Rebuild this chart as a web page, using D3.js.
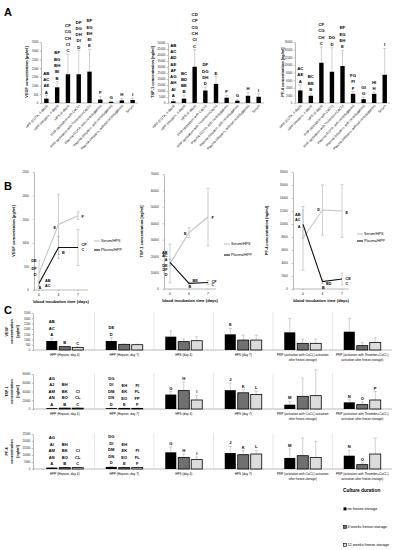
<!DOCTYPE html>
<html><head><meta charset="utf-8">
<script src="https://cdn.jsdelivr.net/npm/d3@7"></script>
<style>body{margin:0;background:#fff} svg{display:block}</style>
</head><body><svg id="c" width="395" height="550"></svg>
<script>
// ---------- Panel A data ----------
const aCategories = ["HPP (EDTA, 4 days)","HPP (Heparin, 4 days)","HPS (4 days)","PRP (activation with CaCl₂)","PRP (activation with Thrombin+CaCl₂)","Plasma (EDTA, with centrifugation)","Plasma (Heparin, with centrifugation)","Plasma (Heparin, without centrifugation)","Serum"];
const aVegf = [250, 900, 1650, 1650, 1800, 200, 70, 150, 170];
const aVegfSd = [180, 330, 1150, 1350, 1270, 180, 40, 110, 130];
const aVegfLetters = [["AB","AC","AE","A"],["BF","BG","BH","BI","B"],["CF","CG","CH","CI","C"],["DF","DG","DH","DI","D"],["EF","EG","EH","EI","E"],["F"],["G"],["H"],["I"]];
const aTsp = [1400, 3600, 30200, 10400, 15900, 4400, 1900, 6000, 5200];
const aTspSd = [1900, 2700, 14300, 2800, 6100, 1900, 1100, 2800, 2500];
const aTspLetters = [["AB","AC","AD","AE","AF","AG","AH","AI","A"],["BC","BD","BE","B"],["CD","CF","CG","CH","CI","C"],["DF","DG","DH","D"],["E"],["F"],["G"],["H"],["I"]];
const aPf4 = [3300, 1900, 10550, 8200, 9700, 2400, 1000, 2400, 7400];
const aPf4Sd = [1550, 700, 4150, 6300, 4100, 600, 500, 450, 6900];
const aPf4Letters = [["AC","AE","A"],["BC","BE","B"],["CF","CG","CH","C"],["DG","D"],["EF","EG","EH","E"],["FG","FI","F"],["GI","G"],["HI","H"],["I"]];
const aVegfTicks = [0,500,1000,1500,2000,2500,3000,3500];
const aTspTicks = [0,5000,10000,15000,20000,25000,30000,35000,40000,45000,50000];
const aPf4Ticks = [0,2000,4000,6000,8000,10000,12000,14000,16000];

// ---------- Panel B data ----------
const bDays = ["0","4","7"];
const bSeriesNames = ["Serum/HPS","Plasma/HPP"];
const bVegfSerum = [350, 1390, 1575], bVegfSerumSd = [280, 640, 80];
const bVegfPlasma = [140, 900, 900], bVegfPlasmaSd = [50, 230, 380];
const bVegfNotes = [["DE",0,615,"L"],["DF",0,445,"L"],["D",0,330,"L"],["AB",0,200,"R2"],["AC",0,85,"R2"],["A",0,40,"M"],["E",1,1310,"L"],["B",1,800,"R"],["F",2,1555,"R"],["CF",2,955,"R"],["C",2,850,"R"]];
const bTspSerum = [15500, 34300, 43800], bTspSerumSd = [11800, 3000, 17500];
const bTspPlasma = [16200, 3400, 4000], bTspPlasmaSd = [2000, 800, 1200];
const bTspNotes = [["AB",0,22200,"L"],["AC",0,20000,"L"],["A",0,17600,"L"],["DE",0,14500,"L"],["DF",0,11500,"L"],["D",0,8500,"L"],["E",1,33700,"L"],["BE",1,5250,"R"],["B",1,1200,"M"],["F",2,43400,"R"],["CF",2,4400,"R"],["C",2,2400,"R"]];
const bPf4Serum = [7800, 12150, 12000], bPf4SerumSd = [4900, 3850, 4050];
const bPf4Plasma = [9950, 1130, 1540], bPf4PlasmaSd = [2200, 300, 900];
const bPf4Notes = [["AB",0,11500,"L"],["AC",0,10700,"L"],["A",0,9600,"L"],["D",1,12150,"L"],["B",1,150,"M"],["BD",1,870,"R"],["E",2,11800,"R"],["CE",2,1640,"R"],["C",2,870,"R"]];
const bVegfTicks = [0,500,1000,1500,2000,2500];
const bTspTicks = [0,10000,20000,30000,40000,50000,60000,70000];
const bPf4Ticks = [0,2000,4000,6000,8000,10000,12000,14000,16000,18000];

// ---------- Panel C data ----------
const cGroups = ["HPP (Heparin, day 4)","HPP (Heparin, day 7)","HPS (day 4)","HPS (day 7)","PRP (activation with CaCl₂) activation|after freeze-storage)","PRP (activation with Thrombin+CaCl₂)|activation after freeze-storage)"];
const cStorage = ["no freeze-storage","4 weeks freeze-storage","12 weeks freeze-storage"];
const cVegfNone = [850, 850, 1260, 1480, 1670, 1730], cVegfNoneSd = [250, 310, 540, 560, 1330, 1270];
const cVegf4w = [315, 535, 790, 940, 630, 410], cVegf4wSd = [40, 40, 250, 460, 410, 280];
const cVegf12w = [250, 500, 880, 940, 630, 720], cVegf12wSd = [40, 40, 380, 460, 410, 440];
const cVegfLetters = [[["AB","AC","A"],["B"],["C"]],[["DE","D"],[],[]],[[],[],[]],[["E"],[],[]],[[],[],[]],[[],[],[]]];
const cTspNone = [2000, 2000, 33000, 43000, 9900, 15200], cTspNoneSd = [300, 300, 7000, 16400, 7600, 5800];
const cTsp4w = [2000, 1500, 42000, 37000, 29000, 10000], cTsp4wSd = [300, 300, 19700, 7000, 41800, 6000];
const cTsp12w = [2000, 1500, 20600, 33000, 30500, 20600], cTsp12wSd = [300, 300, 10400, 7800, 59000, 19400];
const cTspLetters = [[["AG","AJ","AM","AN","A"],["BH","BK","BO","B"],["CI","CL","C"]],[["DG","DI","DM","DN","D"],["EH","EK","EO","E"],["FI","FL","FP","F"]],[["G"],["H"],["I"]],[["J"],["K"],["L"]],[["M"],[],[]],[["N"],["O"],["P"]]];
const cPf4None = [1000, 1500, 11900, 11400, 7900, 9500], cPf4NoneSd = [200, 300, 3800, 4800, 6400, 3800];
const cPf44w = [1000, 1000, 8300, 10200, 9500, 3100], cPf44wSd = [200, 200, 2400, 2900, 12600, 1200];
const cPf412w = [1000, 1000, 6700, 10700, 8300, 10700], cPf412wSd = [200, 200, 1900, 2600, 11500, 11400];
const cPf4Letters = [[["AG","AI","AM","AN","A"],["BH","BK","BO","B"],["CI","CL","C"]],[["DG","DI","DM","DN","D"],["EH","EK","EO","E"],["FI","FL","F"]],[["G"],["H"],["I"]],[["J"],["K"],["L"]],[["M"],[],[]],[["N"],["O"],[]]];
const cVegfTicks = [0,500,1000,1500,2000,2500,3000,3500];
const cTspTicks = [0,20000,40000,60000,80000];
const cPf4Ticks = [0,5000,10000,15000,20000,25000];

// ---------- drawing ----------
const svg = d3.select("#c").attr("font-family","Arial, 'Liberation Sans', sans-serif");
const ERR = "#b0b0b0", AX = "#8a8a8a";

function panelLetter(t,x,y){ svg.append("text").attr("x",x).attr("y",y).attr("font-size",11).attr("font-weight","bold").text(t); }
panelLetter("A",4,16); panelLetter("B",4,190); panelLetter("C",4,314);

function yAxis(g, y, x0, ticks, fs, gap){
  const ax = g.append("g").attr("transform",`translate(${x0},0)`)
    .call(d3.axisLeft(y).tickValues(ticks).tickSize(1.2).tickSizeOuter(0).tickPadding(gap).tickFormat(d3.format("d")));
  ax.selectAll("text").attr("font-size",fs).attr("fill","#222").attr("font-family","Arial, 'Liberation Sans', sans-serif");
  ax.selectAll("line,path").attr("stroke",AX).attr("stroke-width",0.6);
  return ax;
}

function drawA(o){
  const g = svg.append("g");
  const x = d3.scaleBand().domain(aCategories).range([o.x0,o.x1]);
  const y = d3.scaleLinear().domain([0,o.max]).range([103,o.yTop]);
  yAxis(g,y,o.x0,o.ticks,2.8,1.5);
  g.append("line").attr("x1",o.x0).attr("x2",o.x1).attr("y1",103).attr("y2",103).attr("stroke",AX).attr("stroke-width",0.6);
  const cx = c => x(c)+x.bandwidth()/2;
  aCategories.forEach((c,i)=>{
    const v=o.vals[i], s=o.sd[i];
    g.append("line").attr("x1",cx(c)).attr("x2",cx(c)).attr("y1",y(v)).attr("y2",y(v+s)).attr("stroke",ERR).attr("stroke-width",0.6);
    g.append("line").attr("x1",cx(c)-1.5).attr("x2",cx(c)+1.5).attr("y1",y(v+s)).attr("y2",y(v+s)).attr("stroke",ERR).attr("stroke-width",0.6);
    g.append("rect").attr("x",cx(c)-2.2).attr("width",4.4).attr("y",y(v)).attr("height",103-y(v)).attr("fill","#000");
    const L=o.letters[i], base=y(v+s)-2;
    L.forEach((t,k)=>{
      g.append("text").attr("x",cx(c)).attr("y",base-(L.length-1-k)*6.3).attr("text-anchor","middle")
        .attr("font-size",4.3).attr("font-weight","bold").text(t);
    });
    g.append("text").attr("transform",`translate(${cx(c)+1.5},${106}) rotate(-47)`).attr("text-anchor","end")
      .attr("font-size",3.4).attr("fill","#111").text(c);
  });
  g.append("text").attr("transform",`translate(${o.lx},72) rotate(-90)`).attr("text-anchor","middle")
    .attr("font-size",3.9).attr("font-weight","bold").text(o.label);
}
drawA({x0:41,x1:138,yTop:42,max:3500,ticks:aVegfTicks,vals:aVegf,sd:aVegfSd,letters:aVegfLetters,label:"VEGF concentration [pg/ml]",lx:28});
drawA({x0:168,x1:264,yTop:43,max:50000,ticks:aTspTicks,vals:aTsp,sd:aTspSd,letters:aTspLetters,label:"TSP-1 concentration [ng/ml]",lx:154});
drawA({x0:295,x1:390,yTop:42,max:16000,ticks:aPf4Ticks,vals:aPf4,sd:aPf4Sd,letters:aPf4Letters,label:"PF-4 concentration [ng/ml]",lx:284});

function drawB(o){
  const g = svg.append("g");
  const x = d3.scalePoint().domain(bDays).range(o.xr);
  const y = d3.scaleLinear().domain([0,o.max]).range([o.y0,o.yTop]);
  yAxis(g,y,o.ax,o.ticks,2.9,4);
  g.append("line").attr("x1",o.ax).attr("x2",o.axEnd).attr("y1",o.y0).attr("y2",o.y0).attr("stroke",AX).attr("stroke-width",0.6);
  bDays.forEach(d=>{
    g.append("line").attr("x1",x(d)).attr("x2",x(d)).attr("y1",o.y0).attr("y2",o.y0+1.2).attr("stroke",AX).attr("stroke-width",0.6);
    g.append("text").attr("x",x(d)).attr("y",o.y0+5.5).attr("text-anchor","middle").attr("font-size",3.2).text(d);
  });
  const series = [{v:o.serum,s:o.serumSd,c:"#c4c4c4"},{v:o.plasma,s:o.plasmaSd,c:"#111"}];
  series.forEach(S=>{
    bDays.forEach((d,i)=>{
      const top=y(S.v[i]+S.s[i]), bot=y(Math.max(0,S.v[i]-S.s[i]));
      g.append("line").attr("x1",x(d)).attr("x2",x(d)).attr("y1",top).attr("y2",bot).attr("stroke",ERR).attr("stroke-width",0.6);
      [top,bot].forEach(yy=>g.append("line").attr("x1",x(d)-1.5).attr("x2",x(d)+1.5).attr("y1",yy).attr("y2",yy).attr("stroke",ERR).attr("stroke-width",0.6));
    });
  });
  series.forEach(S=>{
    g.append("path").attr("d",d3.line().x((d,i)=>x(bDays[i])).y(d=>y(d))(S.v)).attr("fill","none").attr("stroke",S.c).attr("stroke-width",1.1);
  });
  const DX = {L:-2.5,R:3.5,R2:6,M:0.8}, ANC = {L:"end",R:"start",R2:"start",M:"middle"};
  o.notes.forEach(n=>{
    const px=x(bDays[n[1]]);
    g.append("text").attr("x",px+DX[n[3]]).attr("y",y(n[2])).attr("dy","0.35em")
      .attr("text-anchor",ANC[n[3]]).attr("font-size",3.8).attr("font-weight","bold").text(n[0]);
  });
  bSeriesNames.forEach((nm,i)=>{
    const ly=o.legY[i];
    g.append("line").attr("x1",o.legX).attr("x2",o.legX+6).attr("y1",ly).attr("y2",ly).attr("stroke",series[i].c).attr("stroke-width",1.1);
    g.append("text").attr("x",o.legX+7).attr("y",ly).attr("dy","0.35em").attr("font-size",3.7).text(nm);
  });
  g.append("text").attr("x",(o.ax+o.axEnd)/2).attr("y",o.y0+13).attr("text-anchor","middle").attr("font-size",4.1).attr("font-weight","bold").text("blood incubation time (days)");
  g.append("text").attr("transform",`translate(${o.lx},${(o.y0+o.yTop)/2}) rotate(-90)`).attr("text-anchor","middle")
    .attr("font-size",3.9).attr("font-weight","bold").text(o.label);
}
drawB({ax:34,axEnd:88,xr:[39,78],y0:290,yTop:172,max:2500,ticks:bVegfTicks,serum:bVegfSerum,serumSd:bVegfSerumSd,plasma:bVegfPlasma,plasmaSd:bVegfPlasmaSd,notes:bVegfNotes,legX:94,legY:[241,250],label:"VEGF concentration [pg/ml]",lx:15});
drawB({ax:164,axEnd:216,xr:[170,208],y0:289,yTop:174,max:70000,ticks:bTspTicks,serum:bTspSerum,serumSd:bTspSerumSd,plasma:bTspPlasma,plasmaSd:bTspPlasmaSd,notes:bTspNotes,legX:224,legY:[244,255],label:"TSP-1 concentration [ng/ml]",lx:143});
drawB({ax:293,axEnd:349,xr:[303,342],y0:289,yTop:172,max:18000,ticks:bPf4Ticks,serum:bPf4Serum,serumSd:bPf4SerumSd,plasma:bPf4Plasma,plasmaSd:bPf4PlasmaSd,notes:bPf4Notes,legX:357,legY:[234,241],label:"PF-4 concentration [ng/ml]",lx:268});

const cFills = ["#000","#707070","#dcdcdc"];
function drawC(o){
  const g = svg.append("g");
  const xg = d3.scaleBand().domain(cGroups).range([35,392]);
  const xs = d3.scaleBand().domain(cStorage).range([-18.5,18.5]).paddingInner(0.15);
  const y = d3.scaleLinear().domain([0,o.max]).range([o.y0,o.yTop]);
  yAxis(g,y,33,o.ticks,2.8,1.5);
  g.append("line").attr("x1",33).attr("x2",392).attr("y1",o.y0).attr("y2",o.y0).attr("stroke",AX).attr("stroke-width",0.6);
  cGroups.slice(1).forEach(gr=>{
    g.append("line").attr("x1",xg(gr)).attr("x2",xg(gr)).attr("y1",o.yTop-1).attr("y2",o.y0).attr("stroke","#d0d0d0").attr("stroke-width",0.5);
  });
  const sets = [[o.none,o.noneSd],[o.w4,o.w4Sd],[o.w12,o.w12Sd]];
  cGroups.forEach((gr,gi)=>{
    const gc = xg(gr)+xg.bandwidth()/2;
    cStorage.forEach((st,si)=>{
      const v=sets[si][0][gi], s=sets[si][1][gi];
      const bx = gc+xs(st), bw=xs.bandwidth(), c=bx+bw/2;
      g.append("line").attr("x1",c).attr("x2",c).attr("y1",y(v)).attr("y2",y(v+s)).attr("stroke",ERR).attr("stroke-width",0.6);
      g.append("line").attr("x1",c-1.6).attr("x2",c+1.6).attr("y1",y(v+s)).attr("y2",y(v+s)).attr("stroke",ERR).attr("stroke-width",0.6);
      g.append("rect").attr("x",bx).attr("width",bw).attr("y",y(v)).attr("height",o.y0-y(v))
        .attr("fill",cFills[si]).attr("stroke","#000").attr("stroke-width",si===0?0:0.8);
      const L=o.letters[gi][si], base=y(v+s)-2;
      L.forEach((t,k)=>g.append("text").attr("x",c).attr("y",base-(L.length-1-k)*6.5).attr("text-anchor","middle")
        .attr("font-size",4.1).attr("font-weight","bold").text(t));
    });
    gr.split("|").forEach((ln,li)=>g.append("text").attr("x",gc).attr("y",o.y0+6+li*4.6).attr("text-anchor","middle").attr("font-size",3.1).text(ln));
  });
  o.label.forEach((ln,li)=>g.append("text").attr("transform",`translate(${8+li*5.3},${(o.y0+o.yTop)/2}) rotate(-90)`)
    .attr("text-anchor","middle").attr("font-size",3.7).attr("font-weight","bold").text(ln));
}
drawC({y0:350,yTop:313,max:3500,ticks:cVegfTicks,none:cVegfNone,noneSd:cVegfNoneSd,w4:cVegf4w,w4Sd:cVegf4wSd,w12:cVegf12w,w12Sd:cVegf12wSd,letters:cVegfLetters,label:["VEGF","concentration","[pg/ml]"]});
drawC({y0:409,yTop:374,max:80000,ticks:cTspTicks,none:cTspNone,noneSd:cTspNoneSd,w4:cTsp4w,w4Sd:cTsp4wSd,w12:cTsp12w,w12Sd:cTsp12wSd,letters:cTspLetters,label:["TSP-1","concentration","[ng/ml]"]});
drawC({y0:469,yTop:434,max:25000,ticks:cPf4Ticks,none:cPf4None,noneSd:cPf4NoneSd,w4:cPf44w,w4Sd:cPf44wSd,w12:cPf412w,w12Sd:cPf412wSd,letters:cPf4Letters,label:["PF-4","concentration","[ng/ml]"]});

// legend C
const lg = svg.append("g");
lg.append("text").attr("x",343).attr("y",492).attr("font-size",4.8).attr("font-weight","bold").text("Culture duration");
cStorage.forEach((st,i)=>{
  const ly = 509+i*18;
  lg.append("rect").attr("x",343.5).attr("y",ly-1.6).attr("width",3).attr("height",3).attr("fill",cFills[i]).attr("stroke","#000").attr("stroke-width",i===0?0:0.6);
  lg.append("text").attr("x",347.5).attr("y",ly).attr("dy","0.35em").attr("font-size",3.8).text(st);
});
</script></body></html>
